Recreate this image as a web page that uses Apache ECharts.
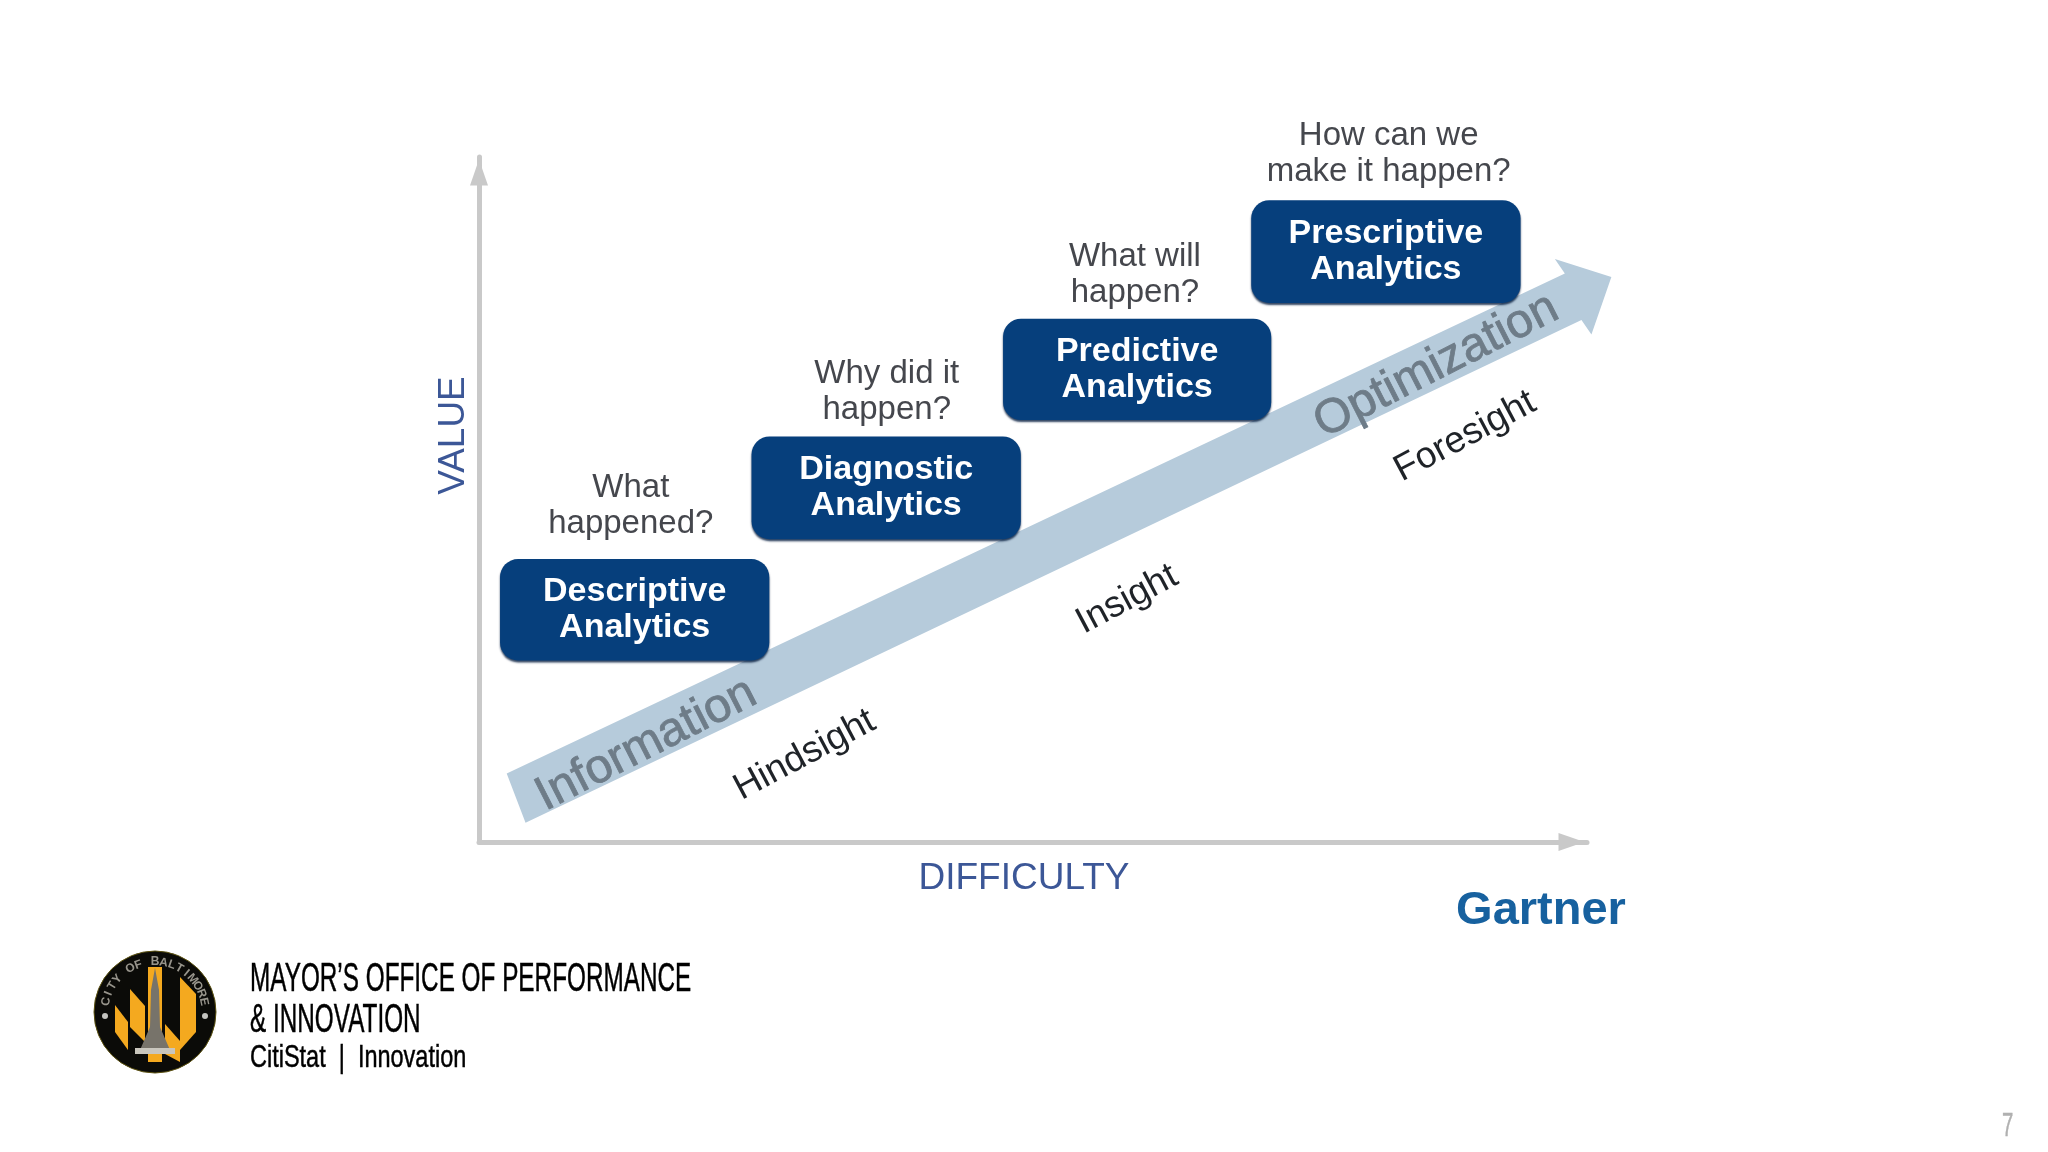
<!DOCTYPE html>
<html>
<head>
<meta charset="utf-8">
<style>html,body{margin:0;padding:0;background:#fff}#chart{width:2048px;height:1152px}</style>
<script src="https://cdn.jsdelivr.net/npm/echarts@6/dist/echarts.min.js"></script>
</head>
<body>
<div id="chart"></div>
<script>
// stages, in axis percent
const boxNames = ['Descriptive\nAnalytics', 'Diagnostic\nAnalytics', 'Predictive\nAnalytics', 'Prescriptive\nAnalytics']
const boxX0 = [1.9, 24.6, 47.3, 69.7]
const boxX1 = [26.2, 48.9, 71.5, 94.0]
const boxY0 = [26.5, 44.2, 61.6, 78.7]
const boxY1 = [41.3, 59.2, 76.4, 93.7]

const questions = ['What\nhappened?', 'Why did it\nhappen?', 'What will\nhappen?', 'How can we\nmake it happen?']
const questionX = [13.7, 36.8, 59.2, 82.1]
const questionY = [49.1, 65.7, 82.8, 100.5]

// big diagonal arrow outline
const arrowX = [2.5, 4.2, 99.5, 100.4, 102.2, 97.1, 98.0]
const arrowY = [10.0, 2.8, 76.2, 74.1, 82.5, 85.1, 83.0]

const arrowWords = ['Information', 'Optimization']
const arrowWordX = [15.1, 86.4]
const arrowWordY = [14.2, 69.5]

const sightWords = ['Hindsight', 'Insight', 'Foresight']
const sightX = [29.4, 58.5, 89.0]
const sightY = [12.7, 35.4, 59.2]

const xName = 'DIFFICULTY'
const yName = 'VALUE'
const titleLines = ['MAYOR’S OFFICE OF PERFORMANCE', '& INNOVATION']
const subTitle = 'CitiStat  |  Innovation'
const sealText = 'CITY OF BALTIMORE'

const ARIAL = '"Liberation Sans", Arial, sans-serif'

function textSeries(name, words, xs, ys, style, angle) {
  return {
    name: name,
    type: 'custom',
    coordinateSystem: 'cartesian2d',
    z: 5,
    data: words.map((w, i) => [xs[i], ys[i], w]),
    renderItem: (params, api) => {
      const p = api.coord([api.value(0), api.value(1)])
      return {
        type: 'text',
        x: p[0],
        y: p[1],
        rotation: angle * Math.PI / 180,
        style: Object.assign({
          text: words[params.dataIndex],
          align: 'center',
          verticalAlign: 'middle',
          fontFamily: ARIAL
        }, style)
      }
    }
  }
}

// narrow text: no condensed face is installed, so squeeze Liberation Sans
function narrowText(text, x, y, size, sx, color, extra) {
  return Object.assign({
    type: 'text', x: x, y: y, scaleX: sx,
    style: {
      text: text, fill: color, stroke: color, lineWidth: 0.5,
      font: size + 'px ' + ARIAL, verticalAlign: 'middle'
    }
  }, extra)
}

// seal, drawn around its centre
const sealCx = 155, sealCy = 1012
const sealGold = [
  [[-7, -45], [7, -45], [7, 50], [-7, 50]],
  [[-25, -23], [-10, -6], [-10, 30], [-25, 15]],
  [[-40, -7], [-27, 10], [-27, 38], [-40, 20]],
  [[25, -35], [41, -18], [41, 20], [25, 38]],
  [[10, 12], [25, 29], [25, 50], [10, 42]]
]
const sealChildren = [
  { type: 'circle', shape: { cx: sealCx, cy: sealCy, r: 61 }, style: { fill: '#0b0b08', stroke: '#5c5210', lineWidth: 1 } }
]
sealGold.forEach(pts => {
  sealChildren.push({ type: 'polygon', shape: { points: pts.map(p => [sealCx + p[0], sealCy + p[1]]) }, style: { fill: '#f4a91f' } })
})
sealChildren.push(
  { type: 'polygon', shape: { points: [[0, -44], [4, -22], [5, 15], [15, 38], [-15, 38], [-5, 15], [-4, -22]].map(p => [sealCx + p[0], sealCy + p[1]]) }, style: { fill: '#77736a' } },
  { type: 'rect', shape: { x: sealCx - 20, y: sealCy + 36, width: 40, height: 6 }, style: { fill: '#c9c6bd' } },
  { type: 'circle', shape: { cx: sealCx - 50, cy: sealCy + 4, r: 3 }, style: { fill: '#c4c4c0' } },
  { type: 'circle', shape: { cx: sealCx + 50, cy: sealCy + 4, r: 3 }, style: { fill: '#c4c4c0' } }
)
sealText.split('').forEach((ch, i) => {
  const a = (-78 + i * 156 / (sealText.length - 1)) * Math.PI / 180
  sealChildren.push({
    type: 'text',
    x: sealCx + 50 * Math.sin(a),
    y: sealCy - 50 * Math.cos(a),
    rotation: -a,
    style: { text: ch, fill: '#98958c', font: 'bold 12px ' + ARIAL, align: 'center', verticalAlign: 'middle' }
  })
})

const axisLine = {
  show: true,
  onZero: false,
  symbol: ['none', 'triangle'],
  symbolSize: [18, 26],
  symbolOffset: [0, -15.5],
  lineStyle: { color: '#c9c9c9', width: 5 }
}

const option = {
  backgroundColor: '#ffffff',
  animation: false,
  grid: { left: 479, right: 461, top: 157, bottom: 310 },
  xAxis: {
    type: 'value', min: 0, max: 100,
    name: xName, nameLocation: 'middle', nameGap: 18,
    nameTextStyle: { color: '#3c5797', fontSize: 37, fontFamily: ARIAL, padding: [0, 18, 0, 0] },
    axisLine: axisLine,
    axisTick: { show: false }, axisLabel: { show: false }, splitLine: { show: false }
  },
  yAxis: {
    type: 'value', min: 0, max: 100,
    name: yName, nameLocation: 'middle', nameGap: 7,
    nameTextStyle: { color: '#3c5797', fontSize: 37, fontFamily: ARIAL, padding: [0, 0, 0, 128] },
    axisLine: axisLine,
    axisTick: { show: false }, axisLabel: { show: false }, splitLine: { show: false }
  },
  graphic: [
    { type: 'group', children: sealChildren },
    narrowText(titleLines[0], 250, 980, 41, 0.593, '#000'),
    narrowText(titleLines[1], 250, 1021, 41, 0.593, '#000'),
    narrowText(subTitle, 250, 1058, 32, 0.734, '#000'),
    narrowText('7', 2002, 1127, 34, 0.6, '#b0b0b0'),
    { type: 'text', x: 1541, y: 911, style: { text: 'Gartner', fill: '#17619f', font: 'bold 47px ' + ARIAL, align: 'center', verticalAlign: 'middle' } }
  ],
  series: [
    {
      name: 'arrow',
      type: 'custom',
      coordinateSystem: 'cartesian2d',
      z: 2,
      data: arrowX.map((x, i) => [x, arrowY[i]]),
      renderItem: (params, api) => {
        if (params.dataIndex !== 0) return null
        return {
          type: 'polygon',
          shape: { points: arrowX.map((x, i) => api.coord([x, arrowY[i]])) },
          style: { fill: '#b6cbdb' }
        }
      }
    },
    {
      name: 'stages',
      type: 'custom',
      coordinateSystem: 'cartesian2d',
      z: 3,
      data: boxNames.map((n, i) => [boxX0[i], boxY0[i], boxX1[i], boxY1[i]]),
      renderItem: (params, api) => {
        const a = api.coord([api.value(0), api.value(3)])
        const b = api.coord([api.value(2), api.value(1)])
        return {
          type: 'group',
          children: [
            {
              type: 'rect',
              shape: { x: a[0], y: a[1], width: b[0] - a[0], height: b[1] - a[1], r: 18 },
              style: { fill: '#063f7c', shadowColor: 'rgba(0,25,60,0.8)', shadowBlur: 2, shadowOffsetY: 2 }
            },
            {
              type: 'text',
              x: (a[0] + b[0]) / 2,
              y: (a[1] + b[1]) / 2,
              style: {
                text: boxNames[params.dataIndex],
                fill: '#ffffff',
                font: 'bold 34px ' + ARIAL,
                lineHeight: 36,
                align: 'center',
                verticalAlign: 'middle'
              }
            }
          ]
        }
      }
    },
    textSeries('questions', questions, questionX, questionY, { fill: '#45474d', fontSize: 33, lineHeight: 36 }, 0),
    textSeries('arrowWords', arrowWords, arrowWordX, arrowWordY, { fill: '#6e7c88', stroke: '#6e7c88', lineWidth: 0.8, fontSize: 48 }, 27),
    textSeries('sightWords', sightWords, sightX, sightY, { fill: '#1f2328', fontSize: 37 }, 28)
  ]
}

const chart = echarts.init(document.getElementById('chart'))
chart.setOption(option)
</script>
</body>
</html>
